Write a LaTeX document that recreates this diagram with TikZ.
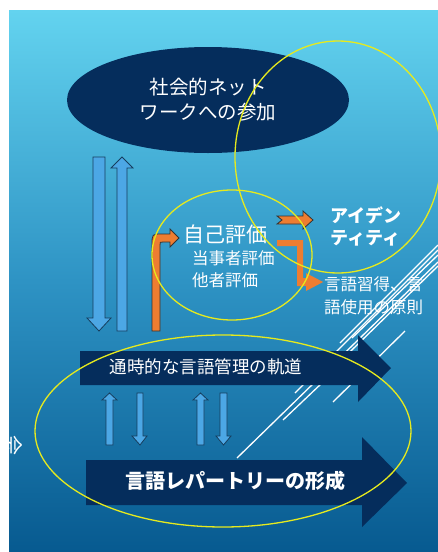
\documentclass[tikz,border=0pt]{standalone}
\usepackage{fontspec}
\setmainfont{Noto Sans CJK JP}
\newfontfamily\jp{Noto Sans CJK JP}
\definecolor{bgtop}{HTML}{63D3EF}
\definecolor{bgmid}{HTML}{2E93C4}
\definecolor{bgbot}{HTML}{075A90}
\definecolor{navy}{HTML}{052D5C}
\definecolor{ablue}{HTML}{4CA7E5}
\definecolor{aedge}{HTML}{163E5E}
\definecolor{orng}{HTML}{ED7D31}
\definecolor{ylw}{HTML}{E6EA1E}
\tikzset{
  bluearrow/.style={fill=ablue,draw=aedge,line width=0.8pt},
  orangearrow/.style={fill=orng,draw=black!80,line width=0.8pt},
  navyarrow/.style={fill=navy,draw=none},
  ring/.style={draw=ylw,line width=1.3pt},
  deco/.style={draw=white,line width=1.3pt},
  wtext/.style={text=white,font=\jp,inner sep=0pt,align=center},
}
\begin{document}
\begin{tikzpicture}[x=1pt,y=-1pt]
\useasboundingbox (0,0) rectangle (438,552);
\fill[white] (0,0) rectangle (438,552);
\shade[top color=bgtop,bottom color=bgbot,middle color=bgmid] (9,10) rectangle (438,552);
% vertical cut-off text on left edge
\begin{scope}
\clip (9,10) rectangle (438,552);
\node[wtext,font=\jp\fontsize{20}{20}\selectfont,rotate=-90] (kai) at (13,445) {会};
\end{scope}
% decorative white lines
\draw[deco] (237,458) -- (438,262);
\draw[deco] (283,420) -- (322,383);
\draw[deco] (295,393) -- (438,250);
\draw[deco] (333,402) -- (405,331);
\draw[deco] (340,343) -- (438,245);
\draw[deco] (318,383) -- (438,266);
\draw[deco] (352,338) -- (438,255);
% dark ellipse
\fill[navy] (208,100) ellipse [x radius=141,y radius=53];
\node[wtext,font=\jp\fontsize{19.5}{25}\selectfont] (net) at (208,100) {社会的ネット\\ワークへの参加};
% big blue arrows
\draw[bluearrow] (93,157) -- (105,157) -- (105,318) -- (111,318) -- (99,331) -- (87,318) -- (93,318) -- cycle;
\draw[bluearrow] (117,331) -- (127,331) -- (127,168) -- (133,168) -- (122,157) -- (111,168) -- (117,168) -- cycle;
% orange bent arrow
\draw[orangearrow] (152,331) -- (152,245) .. controls (152,234) .. (162,234) -- (170,234) -- (170,229) -- (179,238) -- (170,247) -- (170,242) -- (163,242) .. controls (160,242) .. (160,245) -- (160,331) -- cycle;
% notched orange arrow
\draw[orangearrow] (277,216) -- (303,216) -- (303,211) -- (313,220) -- (303,229) -- (303,224) -- (277,224) -- (282,220) -- cycle;
% L-shaped orange arrow
\fill[orng] (277,240) -- (303,240) -- (303,278) -- (306,278) -- (306,273) -- (323,282) -- (306,291) -- (306,286) -- (297,286) -- (297,246) -- (277,246) -- cycle;
% texts
\node[wtext,font=\jp\fontsize{21}{21}\selectfont] (self) at (225,235) {自己評価};
\node[wtext,font=\jp\fontsize{16.5}{22}\selectfont,align=left,anchor=north west] (eval) at (192,250) {当事者評価\\他者評価};
\node[wtext,font=\jp\bfseries\fontsize{18}{22}\selectfont,align=left] (id) at (366,226) {アイデン\\ティティ};
\node[wtext,font=\jp\fontsize{16.5}{23}\selectfont,align=left,anchor=west] (rule) at (324,296) {言語習得、言\\語使用の原則};
% navy arrows
\fill[navyarrow] (80,351) -- (358,351) -- (358,335) -- (391,368) -- (358,402) -- (358,385) -- (80,385) -- cycle;
\node[wtext,font=\jp\fontsize{17.5}{17.5}\selectfont] (traj) at (206,367) {通時的な言語管理の軌道};
\fill[navyarrow] (86,460) -- (362,460) -- (362,437) -- (407,483) -- (362,527) -- (362,505) -- (86,505) -- cycle;
\node[wtext,font=\jp\bfseries\fontsize{20}{20}\selectfont] (rep) at (235,481) {言語レパートリーの形成};
% small blue arrows
\draw[bluearrow] (106,445) -- (113,445) -- (113,400) -- (117,400) -- (109.5,393) -- (102,400) -- (106,400) -- cycle;
\draw[bluearrow] (137,393) -- (143,393) -- (143,436) -- (147,436) -- (140,445) -- (132,436) -- (137,436) -- cycle;
\draw[bluearrow] (197,445) -- (204,445) -- (204,400) -- (208,400) -- (200.5,393) -- (193,400) -- (197,400) -- cycle;
\draw[bluearrow] (220,393) -- (227,393) -- (227,436) -- (231,436) -- (223.5,445) -- (216,436) -- (220,436) -- cycle;
% yellow rings
\draw[ring] (338,157) ellipse [x radius=103,y radius=116];
\draw[ring] (232,255) ellipse [x radius=80,y radius=65];
\draw[ring] (223,431) ellipse [x radius=188,y radius=96];
\end{tikzpicture}
\end{document}
